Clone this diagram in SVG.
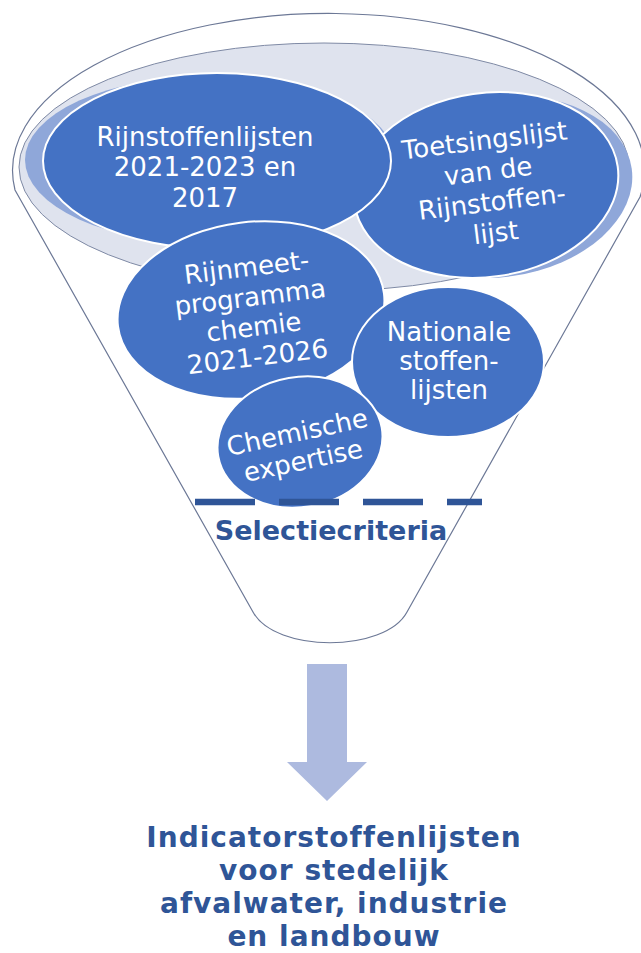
<svg xmlns="http://www.w3.org/2000/svg" width="641" height="953" viewBox="0 0 641 953">
<style>
.node{fill:#4472c4;stroke:#ffffff;stroke-width:2}
.rim{fill:#8fa7d9}
.nt{font-family:"DejaVu Sans","Verdana",sans-serif;font-size:26px;fill:#ffffff;text-anchor:middle}
.bt{font-family:"DejaVu Sans","Verdana",sans-serif;font-weight:bold;fill:#2f5597;text-anchor:middle}
.rt{font-size:28px;letter-spacing:1px}
</style>
<rect width="641" height="953" fill="#ffffff"/>
<g id="funnel">
<path d="M15,190 A316,157 0 1 1 640,197 L407,612 C385,653 275,653 253,612 Z" fill="#ffffff" stroke="#6c7896" stroke-width="1.2"/>
<ellipse cx="324" cy="167" rx="305" ry="124" fill="#dfe3ee" stroke="#7f8aa5" stroke-width="1"/>
<ellipse class="rim" cx="210" cy="160" rx="185" ry="84"/>
<ellipse class="rim" cx="500" cy="187" rx="133" ry="90" transform="rotate(-8 500 187)"/>
</g>
<g id="toetsingslijst">
<ellipse class="node" cx="486" cy="185" rx="133" ry="92" transform="rotate(-8 486 185)"/>
<g transform="rotate(-7 490 186)">
<text class="nt" x="490" y="149">Toetsingslijst</text>
<text class="nt" x="490" y="180">van de</text>
<text class="nt" x="490" y="211">Rijnstoffen-</text>
<text class="nt" x="490" y="242">lijst</text>
</g>
</g>
<g id="rijnstoffenlijsten">
<ellipse class="node" cx="217" cy="161" rx="174" ry="88"/>
<text class="nt" x="205" y="146">Rijnstoffenlijsten</text>
<text class="nt" x="205" y="176">2021-2023 en</text>
<text class="nt" x="205" y="207">2017</text>
</g>
<g id="rijnmeetprogramma">
<ellipse class="node" cx="251" cy="310" rx="134" ry="88" transform="rotate(-7 251 310)"/>
<g transform="rotate(-7 252 312)">
<text class="nt" x="252" y="276">Rijnmeet-</text>
<text class="nt" x="252" y="306">programma</text>
<text class="nt" x="252" y="336">chemie</text>
<text class="nt" x="252" y="366">2021-2026</text>
</g>
</g>
<g id="nationale">
<ellipse class="node" cx="448" cy="362" rx="96" ry="75"/>
<text class="nt" x="449" y="341">Nationale</text>
<text class="nt" x="449" y="370">stoffen-</text>
<text class="nt" x="449" y="399">lijsten</text>
</g>
<g id="chemische">
<ellipse class="node" cx="300" cy="442" rx="83" ry="65" transform="rotate(-10 300 442)"/>
<g transform="rotate(-12 300 446)">
<text class="nt" x="300" y="441">Chemische</text>
<text class="nt" x="300" y="470">expertise</text>
</g>
</g>
<g id="selectiecriteria">
<line x1="195" y1="502" x2="482" y2="502" stroke="#2f5597" stroke-width="6.5" stroke-dasharray="60 24"/>
<text class="bt" x="331" y="540" font-size="27">Selectiecriteria</text>
</g>
<g id="connectors">
<path d="M307,664 H347 V762 H367 L327,801 L287,762 H307 Z" fill="#adbadf"/>
</g>
<g id="result">
<text class="bt rt" x="334" y="847">Indicatorstoffenlijsten</text>
<text class="bt rt" x="334" y="880">voor stedelijk</text>
<text class="bt rt" x="334" y="913">afvalwater, industrie</text>
<text class="bt rt" x="334" y="946">en landbouw</text>
</g>
</svg>
